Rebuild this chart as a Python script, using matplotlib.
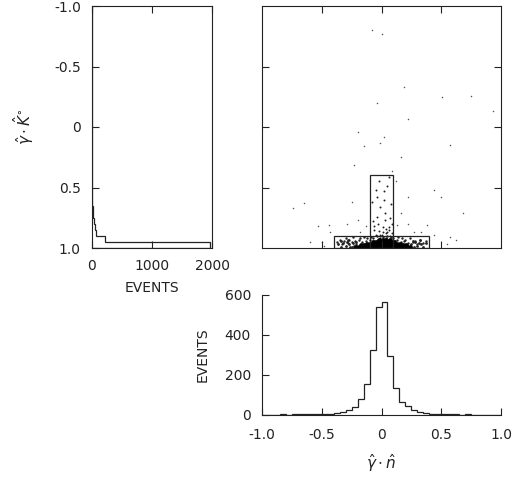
import numpy as np
import matplotlib.pyplot as plt
from matplotlib.patches import Rectangle

plt.rcParams['font.family'] = ['DejaVu Sans']
plt.rcParams['axes.unicode_minus'] = False

# --- gamma.K histogram (left panel, drawn sideways), 0.05 bins on [-1, 1]
cosK_edges = np.linspace(-1.0, 1.0, 41)
cosK_counts = [0]*28 + [3, 4, 5, 6, 8, 12, 18, 28, 45, 65, 210, 1960]

# --- gamma.n histogram (bottom panel), 0.05 bins on [-1, 1]
cosN_edges = np.linspace(-1.0, 1.0, 41)
cosN_counts = [0, 0, 0, 1, 0, 1, 1, 1, 1, 1,
               2, 4, 6, 12, 25, 38, 77, 151, 322, 540,
               563, 292, 134, 64, 43, 23, 12, 6, 4, 2,
               1, 1, 1, 0, 1, 0, 0, 0, 0, 0]

# --- scatter (gamma.n , gamma.K)
sparse_x = [0.005, -0.08, 0.19, 0.51, 0.75, -0.04, 0.22, -0.20, 0.02, -0.15, -0.01,
            0.57, 0.93, -0.23, 0.16, 0.09, -0.74, -0.65, 0.22, 0.44, 0.68, -0.53,
            -0.44, -0.43, -0.29, -0.20, -0.13, -0.18, 0.13, 0.16, 0.22, 0.27, 0.33,
            0.38, 0.44, 0.50, 0.57, -0.50, 0.62, -0.60, 0.55, -0.48, 0.12, -0.25]
sparse_y = [-0.77, -0.80, -0.33, -0.25, -0.26, -0.20, -0.07, 0.04, 0.08, 0.16, 0.135,
            0.15, -0.13, 0.31, 0.25, 0.36, 0.67, 0.63, 0.58, 0.52, 0.71, 0.82,
            0.81, 0.87, 0.80, 0.77, 0.82, 0.87, 0.81, 0.71, 0.80, 0.87, 0.87,
            0.81, 0.89, 0.58, 0.91, 0.95, 0.93, 0.95, 0.97, 0.98, 0.45, 0.62]

tall_x = [-0.05, -0.04, 0.02, 0.05, -0.01, -0.04, 0.03, 0.075, -0.065, 0.06, 0.02, -0.02,
          0.06, -0.08, 0.08, -0.03, 0.01, 0.04, -0.07, 0.09, 0.0, -0.05, 0.07, 0.03,
          -0.02, 0.05, 0.085, -0.06, 0.015, 0.035, -0.01, 0.065]
tall_y = [0.52, 0.58, 0.53, 0.49, 0.66, 0.74, 0.71, 0.75, 0.85, 0.85, 0.60, 0.45,
          0.41, 0.62, 0.64, 0.80, 0.83, 0.88, 0.78, 0.80, 0.89, 0.89, 0.90, 0.77,
          0.86, 0.87, 0.88, 0.82, 0.87, 0.84, 0.89, 0.83]

wide_x = [-0.37, -0.35, -0.33, -0.31, -0.30, -0.28, -0.27, -0.25, -0.24, -0.22,
          -0.21, -0.19, -0.18, -0.16, -0.15, -0.13, -0.12, -0.10, -0.09, -0.07,
          -0.06, -0.04, -0.03, -0.01, 0.01, 0.02, 0.04, 0.05, 0.07, 0.08,
          0.10, 0.11, 0.13, 0.14, 0.16, 0.17, 0.19, 0.20, 0.22, 0.24,
          0.26, 0.28, 0.30, 0.32, 0.35, 0.37]
wide_y = [0.95, 0.93, 0.97, 0.94, 0.92, 0.96, 0.93, 0.95, 0.91, 0.94,
          0.97, 0.93, 0.92, 0.95, 0.91, 0.94, 0.92, 0.93, 0.91, 0.92,
          0.94, 0.90, 0.93, 0.92, 0.91, 0.94, 0.92, 0.90, 0.93, 0.91,
          0.92, 0.94, 0.93, 0.91, 0.95, 0.92, 0.94, 0.93, 0.96, 0.92,
          0.95, 0.94, 0.97, 0.93, 0.96, 0.94]

halo_x = [-0.36, -0.34, -0.32, -0.30, -0.29, -0.27, -0.26, -0.24, -0.23, -0.21,
          0.25, 0.27, 0.28, 0.30, 0.31, 0.33, 0.35, 0.37,
          -0.34, -0.28, -0.25, 0.26, 0.32]
halo_y = [0.97, 0.99, 0.96, 0.98, 0.95, 0.97, 0.99, 0.96, 0.98, 0.95,
          0.97, 0.99, 0.95, 0.98, 0.96, 0.97, 0.99, 0.96,
          0.94, 0.93, 0.99, 0.94, 0.93]

core_x = [-0.21, -0.185, -0.16, -0.135, -0.11, -0.085, -0.06, -0.035, -0.01, 0.015,
          0.04, 0.065, 0.09, 0.115, 0.14, 0.165, 0.19, 0.215, 0.24,
          -0.17, -0.145, -0.12, -0.095, -0.07, -0.045, -0.02, 0.005, 0.03, 0.055,
          0.08, 0.105, 0.13, 0.155, 0.18, 0.205,
          -0.12, -0.095, -0.07, -0.045, -0.02, 0.005, 0.03, 0.055, 0.08, 0.105, 0.13, 0.155,
          -0.07, -0.045, -0.02, 0.005, 0.03, 0.055, 0.08, 0.105,
          -0.02, 0.01, 0.04, 0.07]
core_y = [0.993]*19 + [0.978]*16 + [0.963]*12 + [0.948]*8 + [0.935]*4

# cut boxes (x range, y range)
cut_tall = [(-0.1, 0.1), (0.4, 1.0)]
cut_wide = [(-0.4, 0.4), (0.9, 1.0)]

ink = '#222222'
W, H = 516, 478
fig = plt.figure(figsize=(W/100, H/100), dpi=100)
ax_l = fig.add_axes([92/W, 1-248/H, 120/W, 242/H])
ax_s = fig.add_axes([262/W, 1-248/H, 239/W, 242/H])
ax_b = fig.add_axes([262/W, 1-414.5/H, 239/W, 119.5/H])

for ax in (ax_l, ax_s, ax_b):
    for sp in ax.spines.values():
        sp.set_color(ink)
        sp.set_linewidth(0.8)
    ax.tick_params(direction='in', length=5, width=0.8, color=ink,
                   labelsize=10, pad=8, labelcolor=ink)

# left panel
ax_l.stairs(cosK_counts, cosK_edges, orientation='horizontal', color=ink, lw=0.9)
ax_l.set_xlim(0, 2000)
ax_l.set_ylim(1.0, -1.0)
ax_l.set_xticks([0, 1000, 2000], ['0', '1000', '2000'])
ax_l.set_yticks([-1.0, -0.5, 0, 0.5, 1.0], ['-1.0', '-0.5', '0', '0.5', '1.0'])
ax_l.tick_params(top=True)
ax_l.set_xlabel('EVENTS', fontsize=10, color=ink, labelpad=6)
ax_l.set_ylabel(r'$\hat{\gamma}\cdot\hat{K}^{\circ}$', fontsize=11, color=ink, labelpad=13)

# scatter panel
ax_s.scatter(sparse_x, sparse_y, s=1.2, color='#555555', lw=0)
ax_s.scatter(tall_x, tall_y, s=2.0, color=ink, lw=0)
ax_s.scatter(wide_x, wide_y, s=3.0, color=ink, lw=0)
ax_s.scatter(halo_x, halo_y, s=4.0, color=ink, lw=0)
ax_s.scatter(core_x, core_y, s=12, color='black', lw=0)
for (x0, x1), (y0, y1) in (cut_tall, cut_wide):
    ax_s.add_patch(Rectangle((x0, y0), x1 - x0, y1 - y0, fill=False, ec=ink, lw=0.9))
ax_s.set_xlim(-1, 1)
ax_s.set_ylim(1.0, -1.0)
ax_s.set_xticks([-0.5, 0, 0.5])
ax_s.set_yticks([-0.5, 0, 0.5])
ax_s.tick_params(top=True, right=True, labelbottom=False, labelleft=False)

# bottom panel
ax_b.stairs(cosN_counts, cosN_edges, color=ink, lw=0.9)
ax_b.spines['top'].set_visible(False)
ax_b.spines['right'].set_visible(False)
ax_b.set_xlim(-1, 1)
ax_b.set_ylim(0, 600)
ax_b.set_xticks([-1.0, -0.5, 0, 0.5, 1.0], ['-1.0', '-0.5', '0', '0.5', '1.0'])
ax_b.set_yticks([0, 200, 400, 600], ['0', '200', '400', '600'])
ax_b.tick_params(axis='x', pad=10)
ax_b.set_xlabel(r'$\hat{\gamma}\cdot\hat{n}$', fontsize=11, color=ink, labelpad=7)
ax_b.set_ylabel('EVENTS', fontsize=10, color=ink, labelpad=11)

fig.savefig('out.png', dpi=100, facecolor='white')
